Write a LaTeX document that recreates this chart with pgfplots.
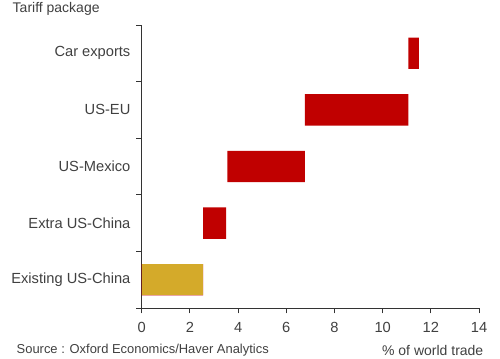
\documentclass[border=0pt]{standalone}
\usepackage{pgfplots}
\pgfplotsset{compat=1.18}
\usepackage{fontspec}
\setmainfont{Liberation Sans}
\definecolor{ored}{HTML}{C00000}
\definecolor{ogold}{HTML}{D4AA2A}
\definecolor{otext}{HTML}{404040}
\pgfplotstableread{
idx start len
0 0.00 2.55
1 2.55 0.95
2 3.55 3.22
3 6.77 4.30
4 11.07 0.43
}\wf
\begin{document}
\begin{tikzpicture}
\path[use as bounding box] (0pt,0pt) rectangle (375pt,269.25pt);
\begin{axis}[
  at={(106.3pt,38.25pt)}, anchor=south west,
  scale only axis, width=253pt, height=212.25pt,
  xbar stacked, bar width=23.5pt,
  xmin=0, xmax=14, ymin=-0.5, ymax=4.5,
  axis x line*=bottom, axis y line*=left,
  axis line style={color=black!80, line width=0.7pt},
  xtick={0,2,...,14},
  ytick={0,1,2,3,4},
  yticklabels={Existing US-China,Extra US-China,US-Mexico,US-EU,Car exports},
  major tick length=0pt,
  extra y ticks={-0.5,0.5,1.5,2.5,3.5,4.5},
  extra y tick labels={},
  extra y tick style={major tick length=4pt, tick align=outside, tick style={color=black!80, line width=0.7pt}},
  extra x ticks={0,2,...,14},
  extra x tick labels={},
  extra x tick style={major tick length=4pt, tick align=outside, tick style={color=black!80, line width=0.7pt}},
  tick label style={color=otext, font=\fontsize{11}{12}\selectfont},
  xticklabel style={font=\fontsize{11}{12}\selectfont, yshift=-7.5pt},
  yticklabel style={xshift=-5pt},
  /pgf/number format/assume math mode=true,
  clip=false,
]
\addplot[draw=none, fill=none] table[x=start, y=idx] {\wf};
\addplot[draw=none, fill=ored] table[x=len, y=idx] {\wf};
\end{axis}
\begin{axis}[
  at={(106.3pt,38.25pt)}, anchor=south west,
  scale only axis, width=253pt, height=212.25pt,
  xbar, bar width=23.5pt,
  xmin=0, xmax=14, ymin=-0.5, ymax=4.5,
  hide axis,
]
\addplot[draw=none, fill=ogold, bar shift=0pt] coordinates {(2.55,0)};
\end{axis}
\node[anchor=west, color=otext, font=\fontsize{10.5}{12}\selectfont] at (6pt,262.5pt) {Tariff package};
\node[anchor=west, color=otext, font=\fontsize{9.7}{12}\selectfont] at (9pt,6.5pt) {Source : Oxford Economics/Haver Analytics};
\node[anchor=east, color=otext, font=\fontsize{10.5}{12}\selectfont] at (366pt,6.5pt) {\% of world trade};
\end{tikzpicture}
\end{document}
